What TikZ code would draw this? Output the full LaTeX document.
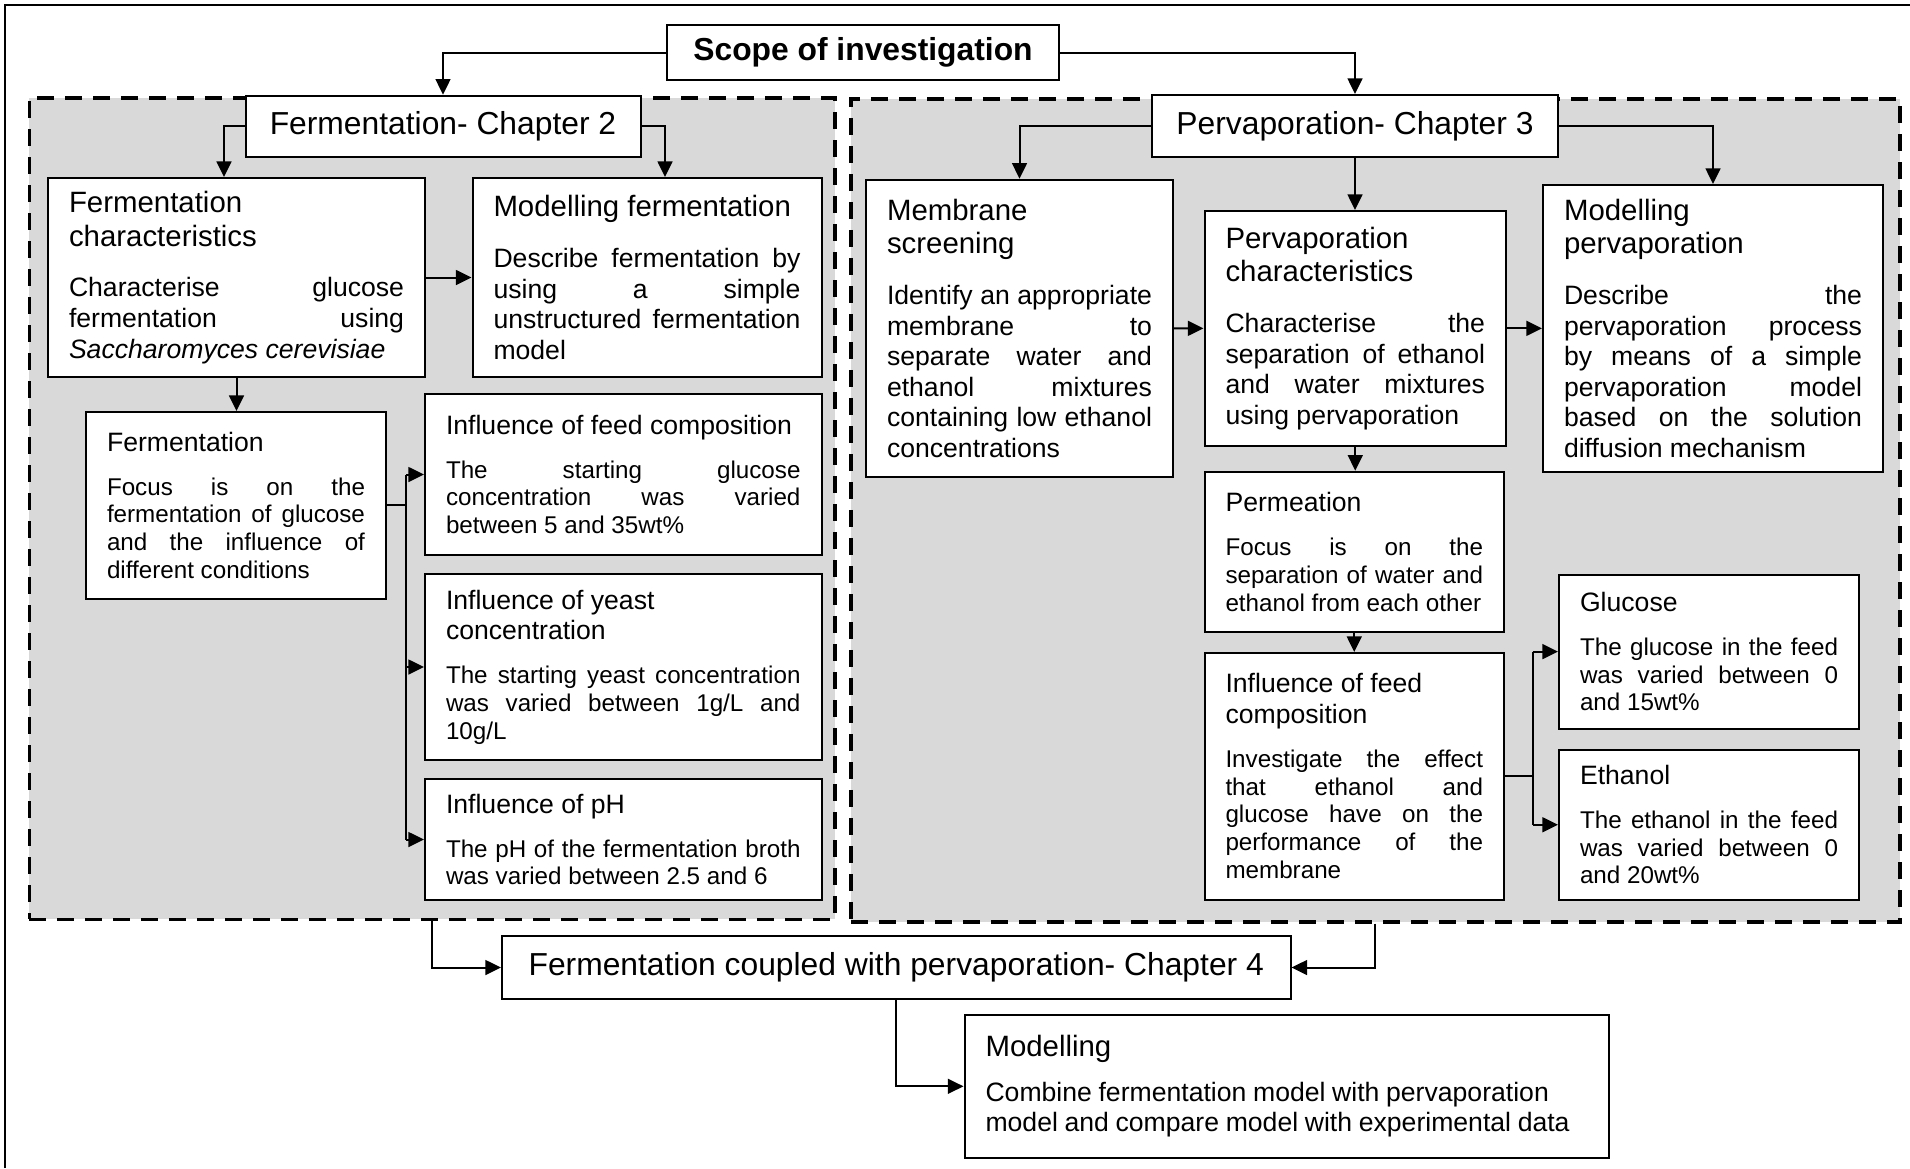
\documentclass[tikz,border=0pt]{standalone}
\usepackage{fontspec}
\setmainfont{Liberation Sans}
\usepackage{xcolor}
\usepackage{tikz}
\usetikzlibrary{arrows.meta}

\definecolor{zonegray}{RGB}{217,217,217}

\newcommand{\titlefont}{\fontsize{15.9}{18.3}\selectfont}
\newcommand{\headbig}[2][10pt]{{\raggedright\fontsize{14.7}{16.9}\selectfont #2\par}\vspace{#1}}
\newcommand{\headsmall}[2][8pt]{{\raggedright\fontsize{13.3}{15.3}\selectfont #2\par}\vspace{#1}}
\newcommand{\bodybig}[1]{{\fontsize{13.3}{15.3}\selectfont #1\par}}
\newcommand{\bodysmall}[1]{{\fontsize{12.1}{13.9}\selectfont #1\par}}

\tolerance=10000
\hyphenpenalty=10000
\hbadness=10000

\tikzset{
	zone/.style={draw, dash pattern=on 8.5pt off 5.5pt, line width=1.8pt, fill=zonegray, anchor=north west, inner sep=0pt},
	chapbox/.style={draw, fill=white, line width=1pt, align=center, font=\titlefont},
	infobox/.style={draw, fill=white, line width=1pt, anchor=north west, inner xsep=10.5pt, inner ysep=4pt, align=justify},
}

\begin{document}
\begin{tikzpicture}[x=0.5pt, y=-0.5pt, line width=1pt, >={Triangle[length=7.8pt,width=7.4pt]}]
	\useasboundingbox (0,0) rectangle (1910,1168);
	\draw (5,1168) -- (5,4.5) -- (1910,4.5);

	\node[zone, minimum width=402.75pt, minimum height=410.75pt] (fermzone) at (27.5,96) {};
	\node[zone, minimum width=524.5pt, minimum height=411.5pt] (pervzone) at (849,97) {};

	\node[chapbox, minimum width=196pt, minimum height=27.5pt] (scope) at (863,52.5) {\bfseries Scope of investigation};
	\node[chapbox, minimum width=197.5pt, minimum height=30.7pt] (fch) at (443,126.4) {Fermentation- Chapter 2};
	\node[chapbox, minimum width=203pt, minimum height=31pt] (pch) at (1355,126) {Pervaporation- Chapter 3};
	\node[chapbox, minimum width=394.25pt, minimum height=31.5pt] (coupled) at (896.25,967.5) {Fermentation coupled with pervaporation- Chapter 4};

	\node[infobox, text width=167.5pt, minimum height=99.5pt] (fermchar) at (47,177)
		{\headbig{Fermentation characteristics}\bodybig{Characterise glucose\linebreak fermentation using\linebreak \textit{Saccharomyces cerevisiae}}};
	\node[infobox, text width=153.5pt, minimum height=99.5pt] (modferm) at (471.5,177)
		{\headbig{Modelling fermentation}\bodybig{Describe fermentation by\linebreak using a simple\linebreak unstructured fermentation\linebreak model}};
	\node[infobox, text width=129pt, minimum height=93.3pt] (ferm) at (85,411)
		{\headsmall{Fermentation}\bodysmall{Focus is on the\linebreak fermentation of glucose\linebreak and the influence of\linebreak different conditions}};
	\node[infobox, text width=177.25pt, minimum height=80.5pt] (feedL) at (424,393)
		{\headsmall{Influence of feed composition}\bodysmall{The starting glucose\linebreak concentration was varied\linebreak between 5 and 35wt\%}};
	\node[infobox, text width=177.25pt, minimum height=93pt] (yeast) at (424,573)
		{\headsmall{Influence of yeast concentration}\bodysmall{The starting yeast concentration\linebreak was varied between 1g/L and\linebreak 10g/L}};
	\node[infobox, text width=177.25pt, minimum height=60.5pt] (ph) at (424,778)
		{\headsmall{Influence of pH}\bodysmall{The pH of the fermentation broth\linebreak was varied between 2.5 and 6}};

	\node[infobox, text width=132.5pt, minimum height=148.65pt] (membrane) at (865,178.7)
		{\headbig{Membrane screening}\bodybig{Identify an appropriate\linebreak membrane to\linebreak separate water and\linebreak ethanol mixtures\linebreak containing low ethanol\linebreak concentrations}};
	\node[infobox, text width=129.75pt, minimum height=117.35pt] (pervchar) at (1203.5,210)
		{\headbig{Pervaporation characteristics}\bodybig{Characterise the\linebreak separation of ethanol\linebreak and water mixtures\linebreak using pervaporation}};
	\node[infobox, text width=149pt, minimum height=143.35pt] (modperv) at (1542,184)
		{\headbig{Modelling pervaporation}\bodybig{Describe the\linebreak pervaporation process\linebreak by means of a simple\linebreak pervaporation model\linebreak based on the solution\linebreak diffusion mechanism}};
	\node[infobox, text width=128.75pt, minimum height=80.15pt] (permeation) at (1203.5,470.7)
		{\headsmall{Permeation}\bodysmall{Focus is on the\linebreak separation of water and\linebreak ethanol from each other}};
	\node[infobox, text width=128.75pt, minimum height=123.25pt] (feedR) at (1203.5,652)
		{\headsmall{Influence of feed composition}\bodysmall{Investigate the effect\linebreak that ethanol and\linebreak glucose have on the\linebreak performance of the\linebreak membrane}};
	\node[infobox, text width=129pt, minimum height=77pt] (glucose) at (1558,573.6)
		{\headsmall{Glucose}\bodysmall{The glucose in the feed\linebreak was varied between 0\linebreak and 15wt\%}};
	\node[infobox, text width=129pt, minimum height=74.75pt] (ethanol) at (1558,749)
		{\headsmall{Ethanol}\bodysmall{The ethanol in the feed\linebreak was varied between 0\linebreak and 20wt\%}};

	\node[infobox, align=left, text width=301.25pt, minimum height=71.7pt] (modelling) at (963.5,1013.6)
		{\headbig[7pt]{Modelling}\bodybig{Combine fermentation model with pervaporation model and compare model with experimental data}};

	\draw[->] (scope.west) -| (fch.north);
	\draw[->] (scope.east) -| (pch.north);
	\draw[->] (fch.west) -- ++(-20.5,0) coordinate (fl) -- (fl |- fermchar.north);
	\draw[->] (fch.east) -- ++(23.5,0) coordinate (fr) -- (fr |- modferm.north);
	\draw[->] (fermchar.south) -- (fermchar.south |- ferm.north);
	\draw (ferm.east) -- ++(19,0) coordinate (fb);
	\draw (fb |- feedL.west) -- (fb |- ph.west);
	\draw[->] (fb |- feedL.west) -- (feedL.west);
	\draw[->] (fb |- yeast.west) -- (yeast.west);
	\draw[->] (fb |- ph.west) -- (ph.west);

	\draw[->] (pch.west) -| (membrane.north);
	\draw[->] (pch.south) -- (pch.south |- pervchar.north);
	\draw[->] (pch.east) -| (modperv.north);
	\draw[->] (pervchar.south) -- (pervchar.south |- permeation.north);
	\draw[->] (permeation.south) -- (permeation.south |- feedR.north);
	\draw (feedR.east) -- ++(27.5,0) coordinate (gb);
	\draw (gb |- glucose.west) -- (gb |- ethanol.west);
	\draw[->] (gb |- glucose.west) -- (glucose.west);
	\draw[->] (gb |- ethanol.west) -- (ethanol.west);

	\path[->]
	(fermchar) edge (modferm)
	(membrane) edge (pervchar)
	(pervchar) edge (modperv);

	\draw[->] (fermzone.south) |- (coupled.west);
	\draw[->] (pervzone.south) |- (coupled.east);
	\draw[->] (coupled.south) |- (modelling.west);
\end{tikzpicture}
\end{document}
